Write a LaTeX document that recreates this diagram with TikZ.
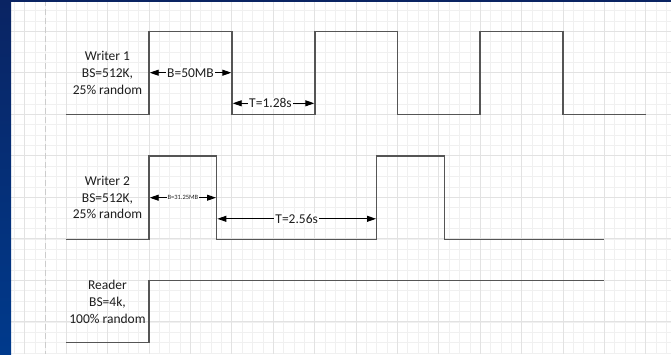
\documentclass[tikz,border=0pt]{standalone}
\usepackage{fontspec}
\setmainfont{Carlito}
\usetikzlibrary{arrows.meta}
\definecolor{navytop}{HTML}{0A2463}
\definecolor{navybot}{HTML}{003A8C}
\definecolor{gridmin}{HTML}{F0F0F0}
\definecolor{gridmaj}{HTML}{E2E2E2}
\definecolor{sigcol}{HTML}{555555}
\definecolor{txtcol}{HTML}{1E1E1E}
\tikzset{
  sig/.style={draw=sigcol, line width=1.4pt, line join=miter},
  dim/.style={draw=black, line width=0.9pt, {Triangle[length=9pt,width=6pt]}-{Triangle[length=9pt,width=6pt]}},
  lbl/.style={fill=white, inner sep=1pt, text=txtcol, font=\fontsize{13.5}{16}\selectfont},
  smalllbl/.style={fill=white, inner sep=0.6pt, text=txtcol, font=\fontsize{6.5}{7}\selectfont},
  txt/.style={align=center, text=txtcol, inner sep=0pt, font=\fontsize{13.5}{16.8}\selectfont},
  gmin/.style={draw=gridmin, line width=0.8pt},
  gmaj/.style={draw=gridmaj, line width=0.9pt},
}
\begin{document}
\begin{tikzpicture}[x=1pt,y=-1pt]
\useasboundingbox (0,0) rectangle (671,354);
\fill[white] (0,0) rectangle (671,354);
% grid
\foreach \k in {0,...,63} {\draw[gmin] ({14.5+\k*10.35},0) -- ({14.5+\k*10.35},354);}
\foreach \j in {-2,...,31} {\draw[gmin] (0,{31.3+\j*10.38}) -- (671,{31.3+\j*10.38});}
\foreach \k in {1,5,...,61} {\draw[gmaj] ({14.5+\k*10.35},0) -- ({14.5+\k*10.35},354);}
\foreach \j in {0,4,...,28} {\draw[gmaj] (0,{31.3+\j*10.38}) -- (671,{31.3+\j*10.38});}
% page break line
\draw[draw=gray!40, line width=0.9pt, dash pattern=on 6pt off 3pt] (45.5,0) -- (45.5,354);
% borders
\shade[top color=navytop, bottom color=navybot] (0,0) rectangle (11,354);
\fill[navytop] (0,0) rectangle (671,2.2);
% signals
\draw[sig] (66,114.3) -- (149,114.3) -- (149,31.3) -- (232,31.3) -- (232,114.3) -- (315,114.3) -- (315,31.3) -- (397.5,31.3) -- (397.5,114.3) -- (480,114.3) -- (480,31.3) -- (563,31.3) -- (563,114.3) -- (645.7,114.3);
\draw[sig] (66,239.3) -- (149,239.3) -- (149,156) -- (216.7,156) -- (216.7,239.3) -- (376.7,239.3) -- (376.7,156) -- (444.3,156) -- (444.3,239.3) -- (604.3,239.3);
\draw[sig] (66,342.7) -- (149,342.7) -- (149,280.7) -- (604.3,280.7);
% labels
\node[txt] (w1) at (107.5,73) {Writer 1\\BS=512K,\\25\% random};
\node[txt] (w2) at (107.5,197.5) {Writer 2\\BS=512K,\\25\% random};
\node[txt] (rd) at (107.5,302) {Reader\\BS=4k,\\100\% random};
% dimension arrows
\coordinate (b1l) at (149.7,72.7);
\coordinate (b1r) at (231.3,72.7);
\draw[dim] (b1l) -- node[lbl] (b1) {B=50MB} (b1r);
\coordinate (t1l) at (232.7,103.3);
\coordinate (t1r) at (314.3,103.3);
\draw[dim] (t1l) -- node[lbl, xshift=-3pt] (t1) {T=1.28s} (t1r);
\coordinate (b2l) at (149.7,197.7);
\coordinate (b2r) at (216,197.7);
\draw[dim] (b2l) -- node[smalllbl] (b2) {B=31.25MB} (b2r);
\coordinate (t2l) at (217.4,218.8);
\coordinate (t2r) at (376,218.8);
\draw[dim] (t2l) -- node[lbl] (t2) {T=2.56s} (t2r);
\end{tikzpicture}
\end{document}
